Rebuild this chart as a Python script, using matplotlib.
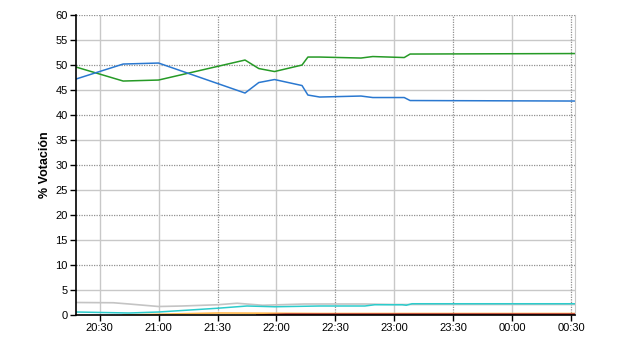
#!/usr/bin/env python3
"""Evolución del % de votación durante el escrutinio."""
from datetime import datetime, timedelta

import matplotlib
matplotlib.use("Agg")
import matplotlib.pyplot as plt
import matplotlib.dates as mdates

plt.rcParams["font.family"] = ["Liberation Sans", "DejaVu Sans"]

# --- data -------------------------------------------------------------------
main_times = ["20:18", "20:42", "21:00", "21:44", "21:51", "21:59", "22:13",
              "22:16", "22:22", "22:43", "22:49", "23:05", "23:08", "00:32"]
green_vals = [49.6, 46.8, 47.0, 51.0, 49.3, 48.7, 50.0,
              51.6, 51.6, 51.4, 51.7, 51.5, 52.2, 52.3]
blue_vals = [47.2, 50.2, 50.4, 44.4, 46.5, 47.1, 45.9,
             44.0, 43.6, 43.8, 43.5, 43.5, 42.9, 42.8]

gray_times = ["20:18", "20:37", "20:45", "21:00", "21:12", "21:30", "21:40",
              "21:53", "22:14", "22:22", "22:45", "23:00", "23:08", "00:32"]
gray_vals = [2.5, 2.45, 2.2, 1.7, 1.8, 2.05, 2.35,
             1.95, 2.2, 2.2, 2.2, 2.1, 2.1, 2.1]

cyan_times = ["20:18", "20:45", "21:00", "21:30", "21:45", "21:59", "22:22",
              "22:45", "22:50", "23:04", "23:06", "23:09", "00:32"]
cyan_vals = [0.6, 0.4, 0.6, 1.35, 1.8, 1.65, 1.8,
             1.8, 2.05, 2.05, 1.95, 2.25, 2.25]

orange_times = ["20:42", "21:00", "21:30", "22:00", "22:22", "00:32"]
orange_vals = [0.0, 0.15, 0.4, 0.35, 0.3, 0.3]

red_times = ["21:50", "22:05", "00:32"]
red_vals = [0.0, 0.15, 0.15]

x_start, x_end = "20:18", "00:32"
tick_times = ["20:30", "21:00", "21:30", "22:00", "22:30",
              "23:00", "23:30", "00:00", "00:30"]
dotted_xticks = {"21:30", "22:30", "23:30", "00:30"}


def to_dt(hhmm: str) -> datetime:
    h, m = map(int, hhmm.split(":"))
    d = datetime(2011, 11, 20, h, m)
    if h < 12:
        d += timedelta(days=1)
    return d


def series(times):
    return [to_dt(t) for t in times]


fig = plt.figure(figsize=(6.4, 3.5), dpi=100)
ax = fig.add_axes([0.11875, 0.10, 0.78, 0.857])

# grid: solid light lines at the 5s, dotted darker at the 10s
for v in range(0, 65, 5):
    if v % 10 == 0:
        ax.axhline(v, color="#909090", lw=0.9, ls=(0, (1, 1)), zorder=0)
    else:
        ax.axhline(v, color="#c8c8c8", lw=1.0, zorder=0)
for t in tick_times:
    if t in dotted_xticks:
        ax.axvline(to_dt(t), color="#909090", lw=0.9, ls=(0, (1, 1)), zorder=0)
    else:
        ax.axvline(to_dt(t), color="#c8c8c8", lw=1.0, zorder=0)

ax.plot(series(gray_times), gray_vals, color="#c4c4c4", lw=1.2)
ax.plot(series(orange_times), orange_vals, color="#ffb84d", lw=1.2)
ax.plot(series(red_times), red_vals, color="#a01030", lw=1.2)
ax.plot(series(cyan_times), cyan_vals, color="#2ccccc", lw=1.1)
ax.plot(series(main_times), green_vals, color="#269a26", lw=1.1)
ax.plot(series(main_times), blue_vals, color="#2a78d0", lw=1.1)

ax.set_xlim(to_dt(x_start), to_dt(x_end))
ax.set_ylim(0, 60)
ax.set_yticks(range(0, 65, 5))
ax.set_xticks([to_dt(t) for t in tick_times])
ax.xaxis.set_major_formatter(mdates.DateFormatter("%H:%M"))
ax.tick_params(labelsize=8, length=4, width=1, color="black", pad=2)

ax.spines["top"].set_visible(False)
ax.spines["right"].set_color("#c8c8c8")
ax.spines["left"].set_linewidth(1.2)
ax.spines["bottom"].set_linewidth(1.2)

ax.set_ylabel("% Votación", fontsize=9, fontweight="bold", labelpad=3)

fig.savefig("out.png", dpi=100)
